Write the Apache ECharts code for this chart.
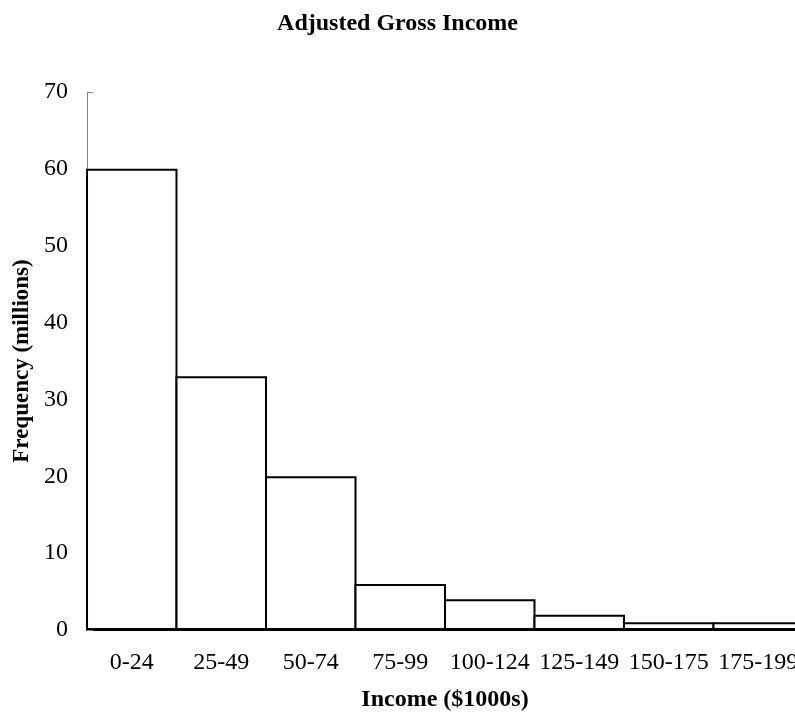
<!DOCTYPE html>
<html>
<head>
<meta charset="utf-8">
<script src="https://cdn.jsdelivr.net/npm/echarts@6/dist/echarts.min.js"></script>
<style>
html,body{margin:0;padding:0;background:#fff;}
#chart{width:795px;height:717px;}
</style>
</head>
<body>
<div id="chart"></div>
<script>
const categories = ['0-24','25-49','50-74','75-99','100-124','125-149','150-175','175-199'];
const frequency = [60, 33, 20, 6, 4, 2, 1, 1];
const yTicks = {min: 0, max: 70, interval: 10};

const font = 'Liberation Serif, Times New Roman, serif';
const chart = echarts.init(document.getElementById('chart'));
chart.setOption({
  backgroundColor: '#fff',
  animation: false,
  title: {
    text: 'Adjusted Gross Income',
    left: 'center',
    top: 7,
    textStyle: {fontFamily: font, fontWeight: 'bold', fontSize: 24, color: '#000'}
  },
  grid: {left: 87, right: -8, top: 92, bottom: 87, containLabel: false, outerBoundsMode: 'none'},
  xAxis: {
    type: 'category',
    data: categories,
    name: 'Income ($1000s)',
    nameLocation: 'middle',
    nameGap: 58,
    nameTextStyle: {fontFamily: font, fontWeight: 'bold', fontSize: 24, color: '#000'},
    axisLine: {show: true, lineStyle: {color: '#000', width: 2}},
    axisTick: {show: false},
    axisLabel: {fontFamily: font, fontSize: 24, color: '#000', margin: 21, interval: 0},
    splitLine: {show: false}
  },
  yAxis: {
    type: 'value',
    min: yTicks.min, max: yTicks.max, interval: yTicks.interval,
    name: 'Frequency (millions)',
    nameLocation: 'middle',
    nameGap: 53,
    nameTextStyle: {fontFamily: font, fontWeight: 'bold', fontSize: 23, color: '#000'},
    axisLine: {show: true, lineStyle: {color: '#808080', width: 1}},
    axisTick: {show: true, inside: true, length: 6, lineStyle: {color: '#808080'}},
    axisLabel: {fontFamily: font, fontSize: 24, color: '#000', margin: 19},
    splitLine: {show: false}
  },
  series: [{
    type: 'bar',
    data: frequency,
    barWidth: '102.2%',
    itemStyle: {color: '#fff', borderColor: '#000', borderWidth: 2}
  }]
});
</script>
</body>
</html>
